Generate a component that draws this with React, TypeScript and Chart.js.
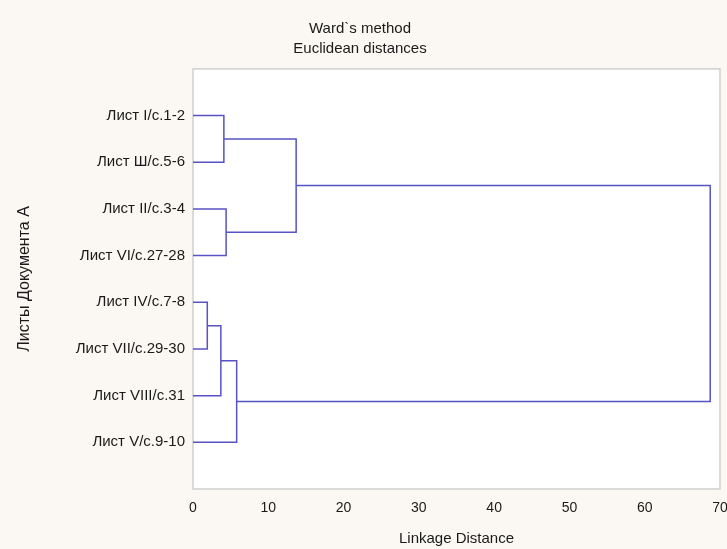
import React, { useEffect, useRef } from "react";
import { Chart, registerables } from "chart.js";

Chart.register(...registerables);

// Leaves (top to bottom)
const leafLabels = [
  "Лист I/c.1-2",
  "Лист Ш/c.5-6",
  "Лист II/c.3-4",
  "Лист VI/c.27-28",
  "Лист IV/c.7-8",
  "Лист VII/c.29-30",
  "Лист VIII/c.31",
  "Лист V/c.9-10",
];

// Merges: node ids 0..7 are leaves, 8.. are clusters in order of creation
const mergeLeft = [0, 2, 4, 10, 11, 8, 13];
const mergeRight = [1, 3, 5, 6, 7, 9, 12];
const mergeHeight = [4.1, 4.4, 1.9, 3.7, 5.8, 13.7, 68.7];

const xTicks = [0, 10, 20, 30, 40, 50, 60, 70];

const titleLines = ["Ward`s method", "Euclidean distances"];
const xTitle = "Linkage Distance";
const yTitle = "Листы Документа А";

const LINE_COLOR = "#5753c4";
const TEXT = "#1a1a1a";
const FONT = "'Liberation Sans', Arial, sans-serif";

function buildDatasets() {
  const nodeY: number[] = leafLabels.map((_, i) => i + 1);
  const nodeH: number[] = leafLabels.map(() => 0);
  const sets: any[] = [];
  mergeLeft.forEach((l, k) => {
    const r = mergeRight[k];
    const h = mergeHeight[k];
    sets.push({
      data: [
        { x: nodeH[l], y: nodeY[l] },
        { x: h, y: nodeY[l] },
        { x: h, y: nodeY[r] },
        { x: nodeH[r], y: nodeY[r] },
      ],
      showLine: true,
      borderColor: LINE_COLOR,
      borderWidth: 1.5,
      pointRadius: 0,
      fill: false,
      tension: 0,
      clip: false,
    });
    nodeY.push((nodeY[l] + nodeY[r]) / 2);
    nodeH.push(h);
  });
  return sets;
}

const framePlugin = {
  id: "frame",
  beforeDraw(chart: any) {
    const { ctx, chartArea: a, width, height } = chart;
    ctx.save();
    ctx.fillStyle = "#fbf8f3";
    ctx.fillRect(0, 0, width, height);
    ctx.fillStyle = "#ffffff";
    ctx.fillRect(a.left, a.top, a.right - a.left, a.bottom - a.top);
    ctx.restore();
  },
  beforeDatasetsDraw(chart: any) {
    const { ctx, chartArea: a } = chart;
    ctx.save();
    ctx.strokeStyle = "#cfcfcf";
    ctx.lineWidth = 1.5;
    ctx.strokeRect(a.left, a.top, a.right - a.left, a.bottom - a.top);
    ctx.restore();
  },
};

export default function App() {
  const ref = useRef<HTMLCanvasElement>(null);
  useEffect(() => {
    if (!ref.current) return;
    const chart = new Chart(ref.current, {
      type: "scatter",
      data: { datasets: buildDatasets() },
      plugins: [framePlugin],
      options: {
        responsive: false,
        animation: false,
        devicePixelRatio: 1,
        layout: { padding: { left: 0, right: 7, top: 0, bottom: 0 } },
        plugins: {
          legend: { display: false },
          tooltip: { enabled: false },
          title: {
            display: true,
            text: titleLines,
            color: TEXT,
            font: { family: FONT, size: 15, weight: "normal", lineHeight: 1.33 },
            padding: { top: 19, bottom: 10 },
          },
        },
        scales: {
          x: {
            type: "linear",
            min: 0,
            max: 70,
            afterBuildTicks: (s: any) => {
              s.ticks = xTicks.map((v) => ({ value: v }));
            },
            afterFit: (s: any) => {
              s.height = 60;
              s.paddingLeft = 0;
              s.paddingRight = 0;
            },
            grid: { display: false, drawTicks: false },
            border: { display: false },
            ticks: {
              color: TEXT,
              padding: 11,
              maxRotation: 0,
              autoSkip: false,
              font: { family: FONT, size: 14 },
            },
            title: {
              display: true,
              text: xTitle,
              color: TEXT,
              font: { family: FONT, size: 15 },
              padding: { top: 0, bottom: 1 },
            },
          },
          y: {
            type: "linear",
            min: 0,
            max: 9,
            reverse: true,
            afterBuildTicks: (s: any) => {
              s.ticks = leafLabels.map((_, i) => ({ value: i + 1 }));
            },
            afterFit: (s: any) => {
              s.width = 193;
            },
            grid: { display: false, drawTicks: false },
            border: { display: false },
            ticks: {
              color: TEXT,
              padding: 8,
              autoSkip: false,
              font: { family: FONT, size: 15 },
              callback: (v: any) => leafLabels[Number(v) - 1] ?? "",
            },
            title: {
              display: true,
              text: yTitle,
              color: TEXT,
              font: { family: FONT, size: 16 },
              padding: { top: 15, bottom: 0 },
            },
          },
        },
      },
    } as any);
    return () => chart.destroy();
  }, []);
  return (
    <div style={{ position: "fixed", left: 0, top: 0, width: 727, height: 549 }}>
      <canvas ref={ref} width={727} height={549} style={{ display: "block" }} />
    </div>
  );
}
